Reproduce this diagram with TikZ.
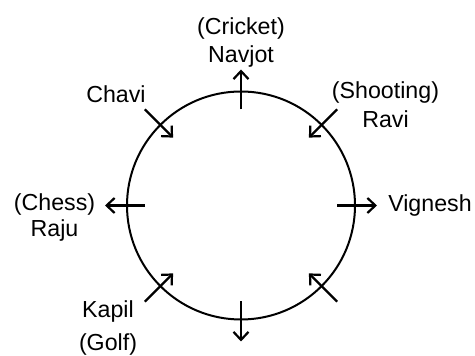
\documentclass[tikz,border=0pt]{standalone}
\usepackage{fontspec}
\setmainfont{Liberation Sans}
\usetikzlibrary{arrows.meta}

\begin{document}
\begin{tikzpicture}[x=1pt, y=1pt,
    spoke/.style={line width=2.2pt, -{Straight Barb[length=8pt, width=15pt, line width=2.2pt]}},
    lbl/.style={font=\fontsize{23.2}{27}\selectfont, align=center, inner sep=0pt, anchor=north}]
  \useasboundingbox (0,0) rectangle (475,356);
  \coordinate (C) at (241,150.5);
  \draw[line width=2pt] (C) circle (114pt);

  % ends of the spokes across the circle
  \foreach \a/\nm in {90/N, 0/E, 180/W, 270/S, 135/NW, 45/NE, 225/SW, 315/SE} {
    \coordinate (\nm-in) at ([shift={(\a:96pt)}]C);
    \coordinate (\nm-out) at ([shift={(\a:136pt)}]C);
  }
  \foreach \nm in {N, E, W, S} \draw[spoke] (\nm-in) -- (\nm-out);
  \foreach \nm in {NW, NE, SW, SE} \draw[spoke] (\nm-out) -- (\nm-in);

  \node[lbl] (navjot) at (241,338.7) {(Cricket)\\[1.3pt]Navjot};
  \node[lbl] (ravi) at (385.5,274.6) {(Shooting)\\[2pt]Ravi};
  \node[lbl] (chavi) at (116,271) {Chavi};
  \node[lbl] (raju) at (54.5,162.2) {(Chess)\\[-1pt]Raju};
  \node[lbl] (vignesh) at (430,162) {Vignesh};
  \node[lbl] (kapil) at (108,55.6) {Kapil\\[5.7pt](Golf)};
\end{tikzpicture}
\end{document}
